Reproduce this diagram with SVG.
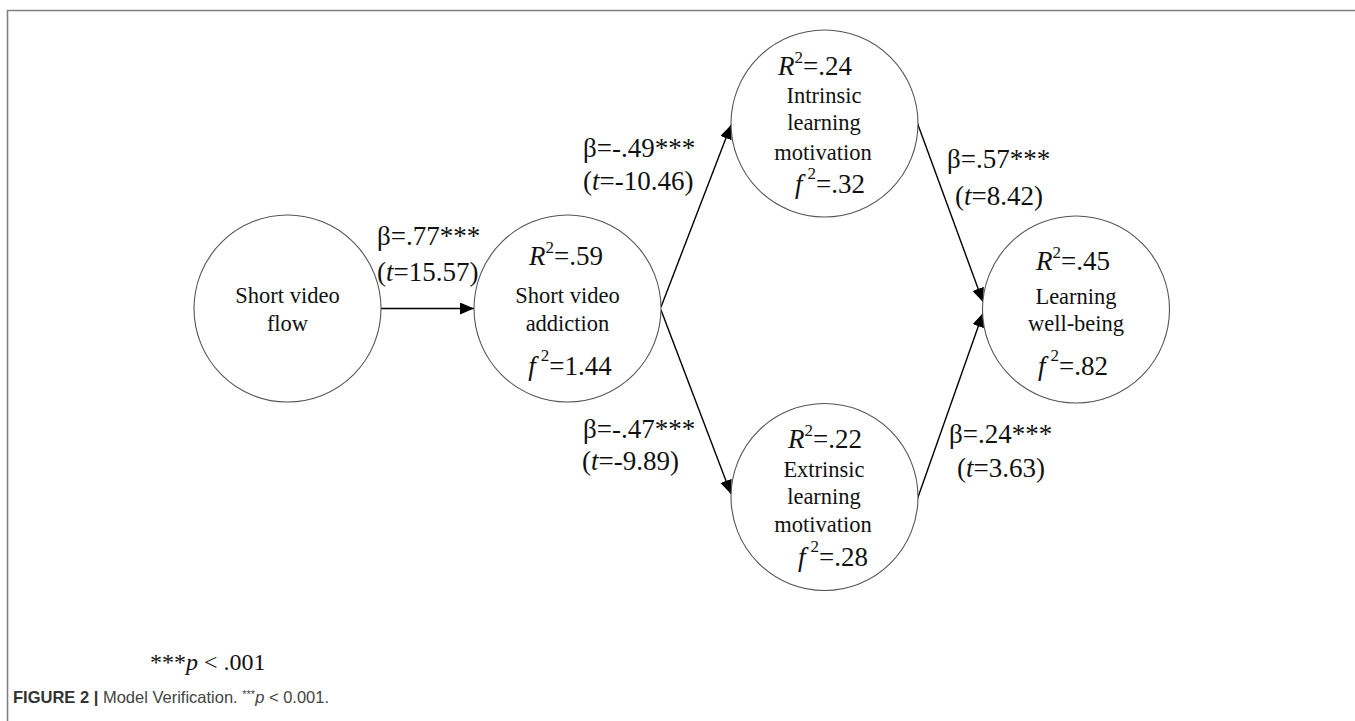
<svg xmlns="http://www.w3.org/2000/svg" width="1355" height="721" viewBox="0 0 1355 721">
<style>
  .node { fill: #ffffff; stroke: #555555; stroke-width: 1.1; }
  .edge { stroke: #000000; stroke-width: 1.4; fill: none; marker-end: url(#arrow); }
  .nm { font-family: "Liberation Serif", "Times New Roman", serif; font-size: 22.5px; fill: #111111; text-anchor: middle; }
  .st { font-family: "Liberation Serif", "Times New Roman", serif; font-size: 27px; fill: #111111; text-anchor: middle; }
  .lb { font-family: "Liberation Serif", "Times New Roman", serif; font-size: 27px; fill: #111111; }
  .note { font-family: "Liberation Serif", "Times New Roman", serif; font-size: 24px; fill: #111111; }
  .it { font-style: italic; }
  .sup { font-size: 17px; }
  .cap { font-family: "Liberation Sans", Arial, sans-serif; font-size: 16.5px; fill: #444444; }
  .capsup { font-size: 11px; }
</style>
<defs>
  <marker id="arrow" markerUnits="userSpaceOnUse" markerWidth="16" markerHeight="14" refX="14" refY="6" orient="auto">
    <path d="M0,0 L14,6 L0,12 Z" fill="#000000"/>
  </marker>
</defs>
<rect x="0" y="0" width="1355" height="721" fill="#ffffff"/>
<path d="M7.5,721 V10.5 H1355" fill="none" stroke="#808080" stroke-width="1.6"/>

<g id="connectors">
  <line class="edge" x1="381" y1="308.5" x2="474" y2="308.5"/>
  <line class="edge" x1="661" y1="307" x2="731" y2="125"/>
  <line class="edge" x1="661" y1="310" x2="731" y2="494"/>
  <line class="edge" x1="917" y1="122" x2="983" y2="302"/>
  <line class="edge" x1="917" y1="500" x2="983" y2="313"/>
</g>

<g id="edge-labels">
  <text class="lb" x="377" y="245">β=.77***</text>
  <text class="lb" x="377" y="281">(<tspan class="it">t</tspan>=15.57)</text>
  <text class="lb" x="583" y="157">β=-.49***</text>
  <text class="lb" x="583" y="190">(<tspan class="it">t</tspan>=-10.46)</text>
  <text class="lb" x="583" y="438">β=-.47***</text>
  <text class="lb" x="582" y="470">(<tspan class="it">t</tspan>=-9.89)</text>
  <text class="lb" x="947" y="168">β=.57***</text>
  <text class="lb" x="955" y="205">(<tspan class="it">t</tspan>=8.42)</text>
  <text class="lb" x="949" y="443">β=.24***</text>
  <text class="lb" x="957" y="477">(<tspan class="it">t</tspan>=3.63)</text>
</g>

<g id="node-flow">
  <circle class="node" cx="287.5" cy="308.5" r="93.5"/>
  <text class="nm" x="287.5" y="303">Short video</text>
  <text class="nm" x="287.5" y="331">flow</text>
</g>

<g id="node-addiction">
  <circle class="node" cx="567.5" cy="308.5" r="93.5"/>
  <text class="st" x="566" y="265"><tspan class="it">R</tspan><tspan class="sup" dy="-12">2</tspan><tspan dy="12">=.59</tspan></text>
  <text class="nm" x="567.5" y="303">Short video</text>
  <text class="nm" x="567.5" y="331">addiction</text>
  <text class="st" x="570" y="375"><tspan class="it">f</tspan><tspan class="sup" dx="5" dy="-14">2</tspan><tspan dy="14">=1.44</tspan></text>
</g>

<g id="node-intrinsic">
  <circle class="node" cx="824.5" cy="123.5" r="93.5"/>
  <text class="st" x="815" y="75"><tspan class="it">R</tspan><tspan class="sup" dy="-12">2</tspan><tspan dy="12">=.24</tspan></text>
  <text class="nm" x="824" y="103">Intrinsic</text>
  <text class="nm" x="824" y="130">learning</text>
  <text class="nm" x="823" y="160">motivation</text>
  <text class="st" x="830" y="193"><tspan class="it">f</tspan><tspan class="sup" dx="5" dy="-14">2</tspan><tspan dy="14">=.32</tspan></text>
</g>

<g id="node-extrinsic">
  <circle class="node" cx="824.5" cy="497" r="93.5"/>
  <text class="st" x="825" y="448"><tspan class="it">R</tspan><tspan class="sup" dy="-12">2</tspan><tspan dy="12">=.22</tspan></text>
  <text class="nm" x="824" y="477">Extrinsic</text>
  <text class="nm" x="824" y="504">learning</text>
  <text class="nm" x="823" y="532">motivation</text>
  <text class="st" x="833" y="566"><tspan class="it">f</tspan><tspan class="sup" dx="5" dy="-14">2</tspan><tspan dy="14">=.28</tspan></text>
</g>

<g id="node-wellbeing">
  <circle class="node" cx="1076" cy="309.5" r="93.5"/>
  <text class="st" x="1073" y="270"><tspan class="it">R</tspan><tspan class="sup" dy="-12">2</tspan><tspan dy="12">=.45</tspan></text>
  <text class="nm" x="1076" y="304">Learning</text>
  <text class="nm" x="1076" y="331">well-being</text>
  <text class="st" x="1073" y="375"><tspan class="it">f</tspan><tspan class="sup" dx="5" dy="-14">2</tspan><tspan dy="14">=.82</tspan></text>
</g>

<g id="note">
  <text class="note" x="150" y="670">***<tspan class="it">p</tspan> &lt; .001</text>
</g>

<g id="caption">
  <text class="cap" x="13" y="703"><tspan font-weight="bold" fill="#333333">FIGURE 2 |</tspan> Model Verification. <tspan class="capsup" dy="-5">***</tspan><tspan class="it" dy="5">p</tspan> &lt; 0.001.</text>
</g>
</svg>
